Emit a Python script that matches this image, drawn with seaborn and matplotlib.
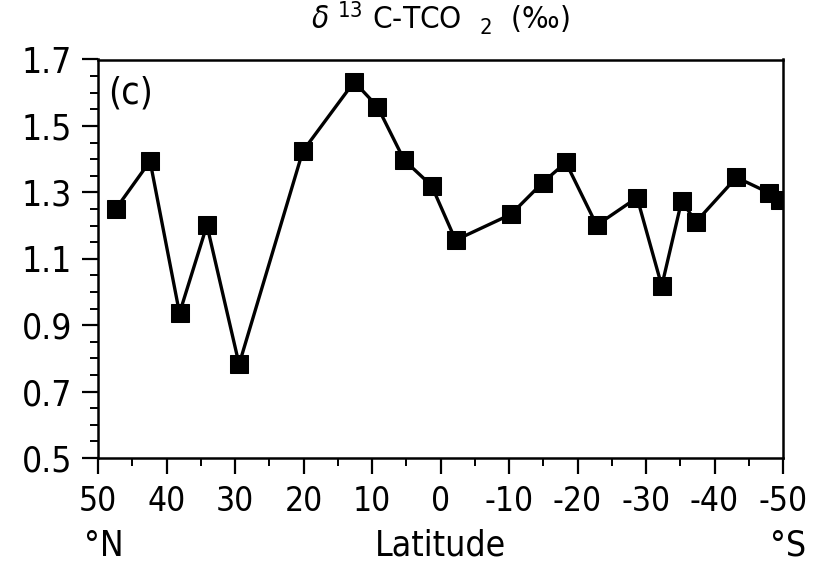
import matplotlib
matplotlib.use("Agg")
import matplotlib.pyplot as plt
import seaborn as sns
import numpy as np
import pandas as pd
from matplotlib.ticker import MultipleLocator, FixedLocator

# Data
latitude = [47.4, 42.4, 38.1, 34.1, 29.4, 20.1, 12.6, 9.2, 5.3, 1.3, -2.2,
            -10.3, -14.9, -18.3, -22.8, -28.7, -32.3, -35.2, -37.3, -43.2,
            -47.9, -49.5]
d13c = [1.250, 1.394, 0.936, 1.201, 0.782, 1.424, 1.633, 1.558, 1.397, 1.320,
        1.156, 1.234, 1.329, 1.390, 1.201, 1.284, 1.018, 1.274, 1.211, 1.345,
        1.299, 1.277]
x_ticks = [50, 40, 30, 20, 10, 0, -10, -20, -30, -40, -50]
x_ticklabels = ["50", "40", "30", "20", "10", "0", "-10", "-20", "-30", "-40", "-50"]
y_ticks = [0.5, 0.7, 0.9, 1.1, 1.3, 1.5, 1.7]
y_ticklabels = ["0.5", "0.7", "0.9", "1.1", "1.3", "1.5", "1.7"]

df = pd.DataFrame({"lat": latitude, "d13c": d13c})

sns.set_style("ticks")
plt.rcParams["font.family"] = ["DejaVu Sans"]
plt.rcParams["font.stretch"] = "condensed"
plt.rcParams["text.color"] = "black"
plt.rcParams["mathtext.fontset"] = "dejavusans"

fig = plt.figure(figsize=(8.15, 5.66), dpi=100)
ax = fig.add_axes([98 / 815, 1 - 458 / 566, (783 - 98) / 815, (458 - 59.5) / 566])

sns.lineplot(data=df, x="lat", y="d13c", sort=False, estimator=None, ax=ax,
             color="black", linewidth=2.4, marker="s", markersize=12.5,
             markeredgecolor="black", markerfacecolor="black")

ax.set_xlim(50, -50)
ax.set_ylim(0.5, 1.7)
ax.xaxis.set_major_locator(FixedLocator(x_ticks))
ax.set_xticklabels(x_ticklabels)
ax.xaxis.set_minor_locator(MultipleLocator(5))
ax.yaxis.set_major_locator(FixedLocator(y_ticks))
ax.set_yticklabels(y_ticklabels)
ax.yaxis.set_minor_locator(MultipleLocator(0.05))

ax.tick_params(axis="both", which="major", direction="out", length=11.5, width=1.6,
               colors="black", labelcolor="black")
ax.tick_params(axis="x", which="major", labelsize=24, pad=8)
ax.tick_params(axis="y", which="major", labelsize=25.5, pad=7)
ax.tick_params(axis="both", which="minor", direction="out", length=5.8, width=1.4,
               colors="black")
for lab in ax.get_xticklabels() + ax.get_yticklabels():
    lab.set_fontstretch("condensed")
for s in ax.spines.values():
    s.set_linewidth(1.8)
    s.set_color("black")
    s.set_visible(True)

ax.set_xlabel("")
ax.set_ylabel("")

ax.text(0.015, 0.915, "(c)", transform=ax.transAxes, fontsize=27, va="center",
        ha="left", color="black", fontstretch="condensed")

fig.text(440 / 815, 1 - 18 / 566, r"$\delta$ $^{13}$ C-TCO  $_{2}$  (‰)",
         ha="center", va="center", fontsize=22.5, color="black",
         fontstretch="condensed")

fig.text(84 / 815, 1 - 546 / 566, "°N", ha="left", va="center", fontsize=25.5,
         color="black", fontstretch="condensed")
fig.text(440 / 815, 1 - 546 / 566, "Latitude", ha="center", va="center",
         fontsize=25.5, color="black", fontstretch="condensed")
fig.text(806 / 815, 1 - 546 / 566, "°S", ha="right", va="center", fontsize=25.5,
         color="black", fontstretch="condensed")

fig.savefig("out.png", dpi=100, facecolor="white")
